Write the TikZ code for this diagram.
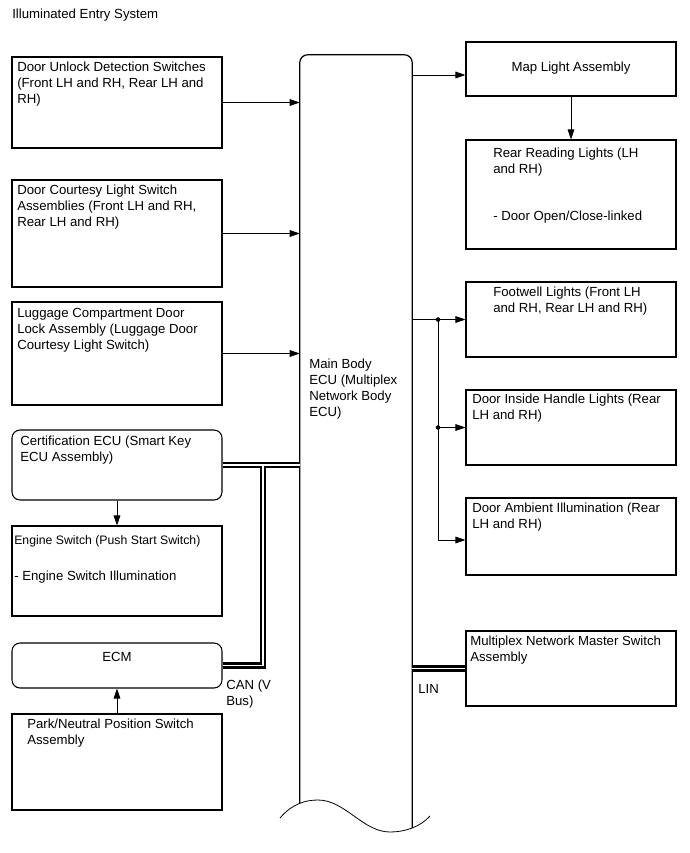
\documentclass[tikz,border=0pt]{standalone}
\usepackage{fontspec}
\setmainfont{Liberation Sans}
\usetikzlibrary{arrows.meta,fit}
\begin{document}
\begin{tikzpicture}[x=0.75pt,y=-0.75pt,
  box/.style={draw,line width=0.8pt,inner sep=0pt},
  rbox/.style={box,rounded corners=6pt},
  txt/.style={font=\fontsize{9.9}{12}\selectfont,align=left,inner sep=0pt,anchor=north west},
  arr/.style={-{Triangle[length=7.5pt,width=5pt]},line width=0.6pt},
  plain/.style={line width=0.6pt},
  outline/.style={line width=0.9pt},
  busout/.style={line width=5pt,line join=miter},
  busin/.style={white,line width=1.2pt,line join=miter},
  dot/.style={circle,fill,inner sep=0pt,minimum size=3.4pt}
]
\useasboundingbox (0,0) rectangle (689,853);

\node[txt] (title) at (12,9) {Illuminated Entry System};

% left column
\node[box,fit={(12,57) (222,148)}] (b1) {};
\node[txt] (t1) at (17,62) {Door Unlock Detection Switches\\(Front LH and RH, Rear LH and\\RH)};
\node[box,fit={(12,180) (222,287)}] (b2) {};
\node[txt] (t2) at (17,185) {Door Courtesy Light Switch\\Assemblies (Front LH and RH,\\Rear LH and RH)};
\node[box,fit={(12,302) (222,405)}] (b3) {};
\node[txt] (t3) at (17,308) {Luggage Compartment Door\\Lock Assembly (Luggage Door\\Courtesy Light Switch)};
\node[rbox,fit={(12,430) (222,500)}] (cert) {};
\node[txt] (t4) at (20,436) {Certification ECU (Smart Key\\ECU Assembly)};
\node[box,fit={(12,526) (222,616)}] (eng) {};
\node[txt] (t5) at (14,535) {{\fontsize{9.2}{12}\selectfont Engine Switch (Push Start Switch)}\\[15pt]- Engine Switch Illumination};
\node[rbox,fit={(12,643) (222,688)}] (ecm) {};
\node[txt,anchor=north] (t6) at (117,652) {ECM};
\node[box,fit={(12,714) (222,810)}] (park) {};
\node[txt] (t7) at (27,719) {Park/Neutral Position Switch\\Assembly};

% main body ECU
\node[inner sep=0pt,fit={(300,55) (412,828)}] (main) {};
\node[txt] (t8) at (309,359) {Main Body\\ECU (Multiplex\\Network Body\\ECU)};
\begin{scope}
  \clip (280,818) .. controls (292,804) and (305,800) .. (318,800)
        .. controls (345,800) and (363,832) .. (390,832)
        .. controls (405,832) and (420,827) .. (430,816)
        -- (430,30) -- (280,30) -- cycle;
  \draw[outline,rounded corners=6pt] (main.west |- 0,850) -- (main.north west) -- (main.north east) -- (main.east |- 0,850);
\end{scope}
\draw[line width=0.6pt] (280,818) .. controls (292,804) and (305,800) .. (318,800)
        .. controls (345,800) and (363,832) .. (390,832)
        .. controls (405,832) and (420,827) .. (430,816);

% right column
\node[box,fit={(466,42) (676,96)}] (map) {};
\node[txt,anchor=north] (t9) at (571,62) {Map Light Assembly};
\node[box,fit={(466,140) (676,249)}] (rear) {};
\node[txt] (t10) at (493,148) {Rear Reading Lights (LH\\and RH)\\[23pt]- Door Open/Close-linked};
\node[box,fit={(466,282) (676,357)}] (foot) {};
\node[txt] (t11) at (493,287) {Footwell Lights (Front LH\\and RH, Rear LH and RH)};
\node[box,fit={(466,390) (676,465)}] (inside) {};
\node[txt] (t12) at (472,394) {Door Inside Handle Lights (Rear\\LH and RH)};
\node[box,fit={(466,498) (676,575)}] (amb) {};
\node[txt] (t13) at (472,503) {Door Ambient Illumination (Rear\\LH and RH)};
\node[box,fit={(466,631) (676,706)}] (mast) {};
\node[txt] (t14) at (470,636) {Multiplex Network Master Switch\\Assembly};

\node[txt] (can) at (226,680) {CAN (V\\Bus)};
\node[txt] (lin) at (418,684) {LIN};

% arrows into main
\draw[arr] (b1.east) -- (b1.east -| main.west);
\draw[arr] (b2.east) -- (b2.east -| main.west);
\draw[arr] (b3.east) -- (b3.east -| main.west);

% main to map
\coordinate (ym) at (0,75);
\draw[arr] (main.east |- ym) -- (map.west |- ym);
\draw[arr] (map.south) -- (rear.north);

% lights branch
\coordinate (bx) at (438,0);
\coordinate (ya) at (0,540);
\draw[arr] (main.east |- foot.west) -- (foot.west);
\draw[plain] (bx |- foot.west) -- (bx |- ya);
\draw[arr] (bx |- ya) -- (amb.west |- ya);
\draw[arr] (bx |- inside.west) -- (inside.west);
\node[dot] (d1) at (bx |- foot.west) {};
\node[dot] (d2) at (bx |- inside.west) {};

% left vertical arrows
\draw[arr] (cert.south) -- (eng.north);
\draw[arr] (park.north) -- (ecm.south);

% CAN bus
\coordinate (jx) at (263,0);
\draw[busout] (cert.east) -- (cert.east -| main.west);
\draw[busout] (ecm.east) -- (ecm.east -| jx) -- (cert.east -| jx);
\draw[busin] (cert.east) -- (cert.east -| main.west);
\draw[busin] (ecm.east) -- (ecm.east -| jx) -- (cert.east -| jx);

% LIN bus
\draw[busout] (mast.west -| main.east) -- (mast.west);
\draw[busin] (mast.west -| main.east) -- (mast.west);
\end{tikzpicture}
\end{document}
